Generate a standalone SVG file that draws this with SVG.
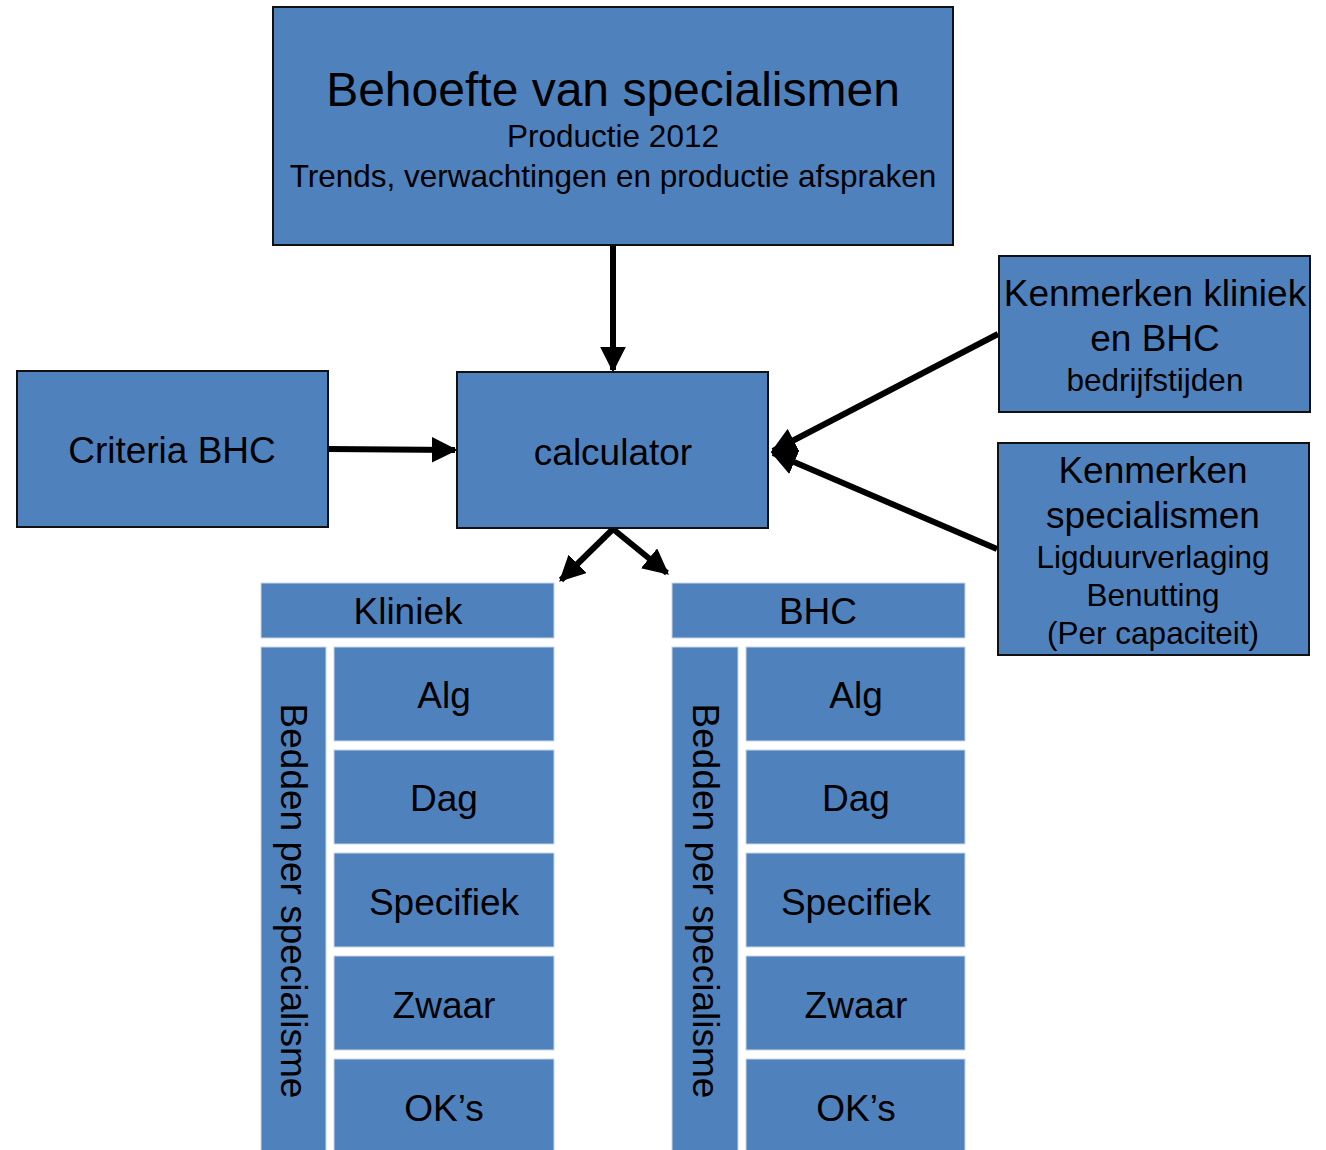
<svg xmlns="http://www.w3.org/2000/svg" width="1326" height="1150" viewBox="0 0 1326 1150">
<style>
.box{fill:#4F81BD;stroke:#111;stroke-width:2}
.cell{fill:#4F81BD;stroke:#c8d6ea;stroke-width:1}
text{font-family:"Liberation Sans",Arial,sans-serif;fill:#000;text-anchor:middle}
.big{font-size:37px}
.sm{font-size:31.5px}
.conn{stroke:#000;stroke-width:6;fill:none}
</style>
<defs>
<marker id="ah" viewBox="0 0 10 10" refX="9" refY="5" markerWidth="4.3" markerHeight="4.3" markerUnits="strokeWidth" orient="auto"><path d="M0,0 L10,5 L0,10 z" fill="#000"/></marker>
</defs>
<rect width="1326" height="1150" fill="#fff"/>
<g id="connectors">
<line class="conn" x1="613" y1="246" x2="613" y2="370" marker-end="url(#ah)"/>
<line class="conn" x1="329" y1="449" x2="455" y2="450" marker-end="url(#ah)"/>
<line class="conn" x1="998" y1="334" x2="773" y2="451" marker-end="url(#ah)"/>
<line class="conn" x1="997" y1="549" x2="773" y2="453" marker-end="url(#ah)"/>
<line class="conn" x1="613" y1="529" x2="561" y2="580" marker-end="url(#ah)"/>
<line class="conn" x1="613" y1="529" x2="667" y2="573" marker-end="url(#ah)"/>
</g>
<g id="behoefte">
<rect class="box" x="273" y="7" width="680" height="238"/>
<text x="613" y="106" font-size="48">Behoefte van specialismen</text>
<text class="sm" x="613" y="147">Productie 2012</text>
<text class="sm" x="613" y="187">Trends, verwachtingen en productie afspraken</text>
</g>
<g id="criteria">
<rect class="box" x="17" y="371" width="311" height="156"/>
<text class="big" x="172" y="463">Criteria BHC</text>
</g>
<g id="calculator">
<rect class="box" x="457" y="372" width="311" height="156"/>
<text class="big" x="613" y="465">calculator</text>
</g>
<g id="kenmerken-kliniek">
<rect class="box" x="999" y="256" width="311" height="156"/>
<text class="big" x="1155" y="306">Kenmerken kliniek</text>
<text class="big" x="1155" y="351">en BHC</text>
<text class="sm" x="1155" y="391">bedrijfstijden</text>
</g>
<g id="kenmerken-specialismen">
<rect class="box" x="998" y="443" width="311" height="212"/>
<text class="big" x="1153" y="483">Kenmerken</text>
<text class="big" x="1153" y="528">specialismen</text>
<text class="sm" x="1153" y="568">Ligduurverlaging</text>
<text class="sm" x="1153" y="606">Benutting</text>
<text class="sm" x="1153" y="644">(Per capaciteit)</text>
</g>
<g id="kliniek">
<rect class="cell" x="261" y="583" width="293" height="55"/>
<text class="big" x="408" y="624">Kliniek</text>
<rect class="cell" x="261" y="647" width="65" height="510"/>
<text class="big" transform="translate(281,901) rotate(90)">Bedden per specialisme</text>
<rect class="cell" x="334" y="647" width="220" height="94"/>
<text class="big" x="444" y="708">Alg</text>
<rect class="cell" x="334" y="750" width="220" height="94"/>
<text class="big" x="444" y="811">Dag</text>
<rect class="cell" x="334" y="853" width="220" height="94"/>
<text class="big" x="444" y="915">Specifiek</text>
<rect class="cell" x="334" y="956" width="220" height="94"/>
<text class="big" x="444" y="1018">Zwaar</text>
<rect class="cell" x="334" y="1059" width="220" height="98"/>
<text class="big" x="444" y="1121">OK’s</text>
</g>
<g id="bhc">
<rect class="cell" x="672" y="583" width="293" height="55"/>
<text class="big" x="818" y="624">BHC</text>
<rect class="cell" x="672" y="647" width="66" height="510"/>
<text class="big" transform="translate(693,901) rotate(90)">Bedden per specialisme</text>
<rect class="cell" x="746" y="647" width="219" height="94"/>
<text class="big" x="856" y="708">Alg</text>
<rect class="cell" x="746" y="750" width="219" height="94"/>
<text class="big" x="856" y="811">Dag</text>
<rect class="cell" x="746" y="853" width="219" height="94"/>
<text class="big" x="856" y="915">Specifiek</text>
<rect class="cell" x="746" y="956" width="219" height="94"/>
<text class="big" x="856" y="1018">Zwaar</text>
<rect class="cell" x="746" y="1059" width="219" height="98"/>
<text class="big" x="856" y="1121">OK’s</text>
</g>
</svg>
